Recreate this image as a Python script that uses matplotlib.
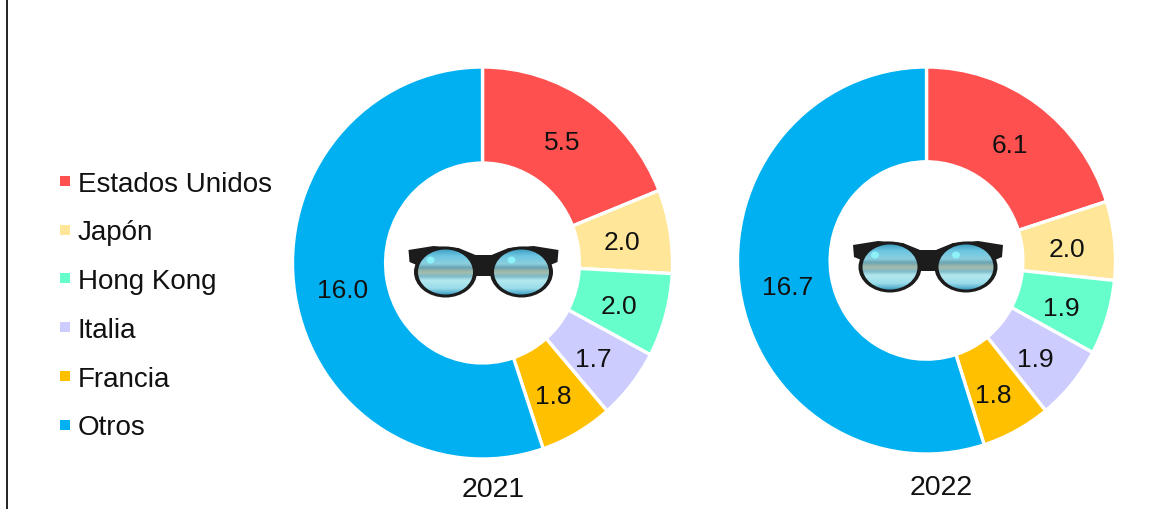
import matplotlib
matplotlib.use("Agg")
import matplotlib.pyplot as plt
from matplotlib.colors import LinearSegmentedColormap
from matplotlib.lines import Line2D
from matplotlib.patches import Ellipse, Polygon
import numpy as np

plt.rcParams['font.family'] = ['Liberation Sans', 'DejaVu Sans']

categories = ["Estados Unidos", "Japón", "Hong Kong", "Italia", "Francia", "Otros"]
values_2021 = [5.5, 2.0, 2.0, 1.7, 1.8, 16.0]
values_2022 = [6.1, 2.0, 1.9, 1.9, 1.8, 16.7]
years = ["2021", "2022"]
colors = ["#FF5050", "#FFE699", "#66FFCC", "#CCCCFF", "#FFC000", "#00B0F0"]

W, H = 1157, 510
fig = plt.figure(figsize=(W/100, H/100), dpi=100, facecolor="white")

def px_axes(cx, cy, rx, ry):
    return fig.add_axes([(cx-rx)/W, 1-(cy+ry)/H, 2*rx/W, 2*ry/H])

def donut(vals, year, cx, cy, rx, ry, lx, ly, label_dy):
    ax = px_axes(cx, cy, rx, ry)
    ws, _ = ax.pie(vals, colors=colors, startangle=90, counterclock=False, radius=1,
                   wedgeprops=dict(width=0.49, edgecolor="white", linewidth=2.4))
    ax.set_aspect("auto")
    ax.set_xlim(-1, 1); ax.set_ylim(-1, 1)
    for w, v in zip(ws, vals):
        a = np.deg2rad((w.theta1 + w.theta2) / 2)
        ax.text(0.745*np.cos(a), 0.765*np.sin(a) - label_dy/ry, f"{v:.1f}", ha="center",
                va="center", fontsize=19, color="#111111")
    fig.text(lx/W, 1-ly/H, year, ha="center", va="center", fontsize=20.5, color="#111111")

donut(values_2021, years[0], 482.5, 264, 190, 196, 493, 490, 3)
donut(values_2022, years[1], 926.5, 261.5, 189, 193.5, 941, 488, 4)

lens_cmap = LinearSegmentedColormap.from_list("lens", [
    (0.00, "#3F9DBE"), (0.14, "#6CC6E2"), (0.32, "#8CCFDF"), (0.40, "#6AA3B2"),
    (0.50, "#A7BBA8"), (0.60, "#7DBBCB"), (0.68, "#B5E8EF"), (0.86, "#9ADDEA"), (1.00, "#3E9FC4")])

def glasses(ax, cx, cy):
    top = [(-75,-21),(-50,-25),(-25,-23),(-8,-16),(8,-16),(25,-23),(50,-25),(75,-21),
           (74,-9),(62,-4),(8,5),(-8,5),(-62,-4),(-74,-9)]
    ax.add_patch(Polygon([(cx+x, cy+y) for x, y in top], closed=True, fc="#1C1C1C", ec="none"))
    for s in (-1, 1):
        ex = cx + s*38
        ax.add_patch(Ellipse((ex, cy+1), 63, 51, fc="#1C1C1C", ec="none"))
        clip = Ellipse((ex, cy+1), 55, 45, fc="none", ec="none")
        ax.add_patch(clip)
        im = ax.imshow(np.linspace(0, 1, 64)[:, None], cmap=lens_cmap, aspect="auto",
                       extent=(ex-28, ex+28, cy+24, cy-22), zorder=2, interpolation="bilinear")
        im.set_clip_path(clip)
        ax.add_patch(Ellipse((ex-15 if s < 0 else ex-10, cy-11), 8, 7, fc="#8CF2F7", ec="none", zorder=3))
    ax.set_xlim(0, W); ax.set_ylim(H, 0)

overlay = fig.add_axes([0, 0, 1, 1], facecolor="none")
overlay.axis("off")
glasses(overlay, 483.5, 272)
glasses(overlay, 928, 267)

handles = [Line2D([], [], ls="none", marker="s", ms=7.8, color=c, mew=0) for c in colors]
fig.legend(handles, categories, loc="center left", bbox_to_anchor=(58/W, 1-306.5/H),
           frameon=False, fontsize=20, labelcolor="#111111", handlelength=0.5,
           handletextpad=0.22, labelspacing=0.82, borderpad=0, borderaxespad=0)

fig.add_artist(Line2D([6.5/W, 6.5/W], [0, 1], color="#222222", lw=1.4))
fig.savefig("out.png", dpi=100)
